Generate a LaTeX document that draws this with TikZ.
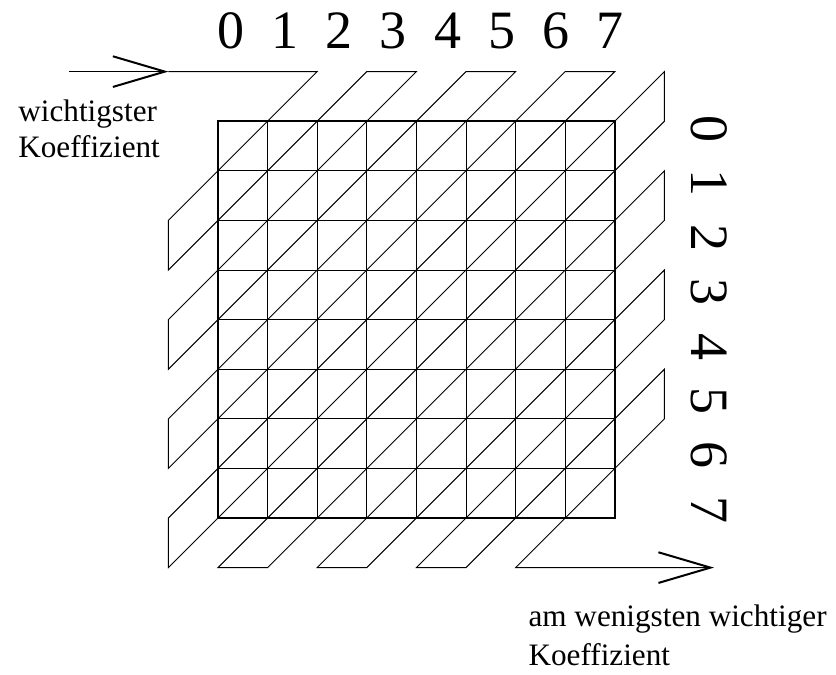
\documentclass[tikz,border=0pt]{standalone}
\usepackage{fontspec}
\setmainfont{Liberation Serif}
\usetikzlibrary{arrows.meta}

\begin{document}
\begin{tikzpicture}[x=37.2pt,y=37.2pt,
        scan/.style={line width=0.7pt},
        barb/.style={-{Straight Barb[length=39pt,width=23pt,line width=1.5pt]}},
        idx/.style={font=\fontsize{40.5}{48}\selectfont,anchor=base,inner sep=0pt},
        coeftext/.style={font=\fontsize{23.4}{28}\selectfont,anchor=base west,inner sep=0pt}]
        \useasboundingbox (-4.395,-3.165) rectangle (12.46,10.444);
        % 8x8 block
        \draw[line width=0.6pt,step={(1,1)}] (0,0) grid (8,8);
        \draw[line width=1.3pt] (0,0) rectangle (8,8);
        % zigzag scan
        \coordinate (start) at (-3,9);
        \coordinate (entry) at (-1,9);
        \coordinate (exit) at (10,-1);
        \draw[scan,barb] (start) -- (entry);
        \draw[scan,barb] (entry) -- (2,9) -- (-1,6) -- (-1,5) -- (3,9) -- (4,9)
            -- (-1,4) -- (-1,3) -- (5,9) -- (6,9) -- (-1,2) -- (-1,1) -- (7,9) -- (8,9)
            -- (-1,0) -- (-1,-1) -- (9,9) -- (9,8) -- (0,-1) -- (1,-1) -- (9,7) -- (9,6)
            -- (2,-1) -- (3,-1) -- (9,5) -- (9,4) -- (4,-1) -- (5,-1) -- (9,3) -- (9,2)
            -- (6,-1) -- (exit);
        % indices
        \foreach \i in {0,...,7} {
            \node[idx] (col\i) at ({0.262+1.0915*\i},9.47) {\i};
            \node[idx,rotate=-90] (row\i) at (9.55,{7.843-1.097*\i}) {\i};
        }
        \node[coeftext] (first1) at (-4.03,8) {wichtigster};
        \node[coeftext] (first2) at (-4.03,7.26) {Koeffizient};
        \node[coeftext] (last1) at (6.256,-2.19) {am wenigsten wichtiger};
        \node[coeftext] (last2) at (6.256,-2.964) {Koeffizient};
    \end{tikzpicture}
\end{document}
